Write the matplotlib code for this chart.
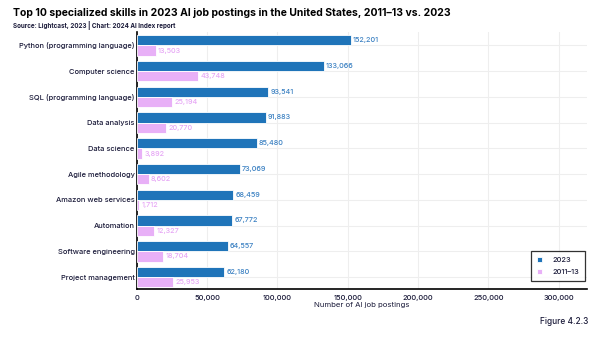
import numpy as np
import matplotlib.pyplot as plt

skills = ["Python (programming language)", "Computer science", "SQL (programming language)",
          "Data analysis", "Data science", "Agile methodology", "Amazon web services",
          "Automation", "Software engineering", "Project management"]
postings_2023 = [152201, 133066, 93541, 91883, 85480, 73069, 68459, 67772, 64557, 62180]
postings_2011 = [13503, 43748, 25194, 20770, 3892, 8602, 1712, 12327, 18704, 25953]

blue = "#1f74b9"
pink = "#e8b0f7"
text_col = "#1b1b3a"

plt.rcParams['font.family'] = ['Inter', 'DejaVu Sans']
plt.rcParams['font.weight'] = 'medium'

fig = plt.figure(figsize=(6, 3.37), dpi=100)
ax = fig.add_axes([0.228, 0.142, 0.75, 0.763])

y = np.arange(len(skills))
h = 0.4
b1 = ax.barh(y - h / 2, postings_2023, height=h, color=blue, edgecolor="white", linewidth=0.6, label="2023", zorder=3)
b2 = ax.barh(y + h / 2, postings_2011, height=h, color=pink, edgecolor="white", linewidth=0.6, label="2011–13", zorder=3)

for bars, vals, c in [(b1, postings_2023, "#3a80c2"), (b2, postings_2011, "#e6a6f5")]:
    for bar, v in zip(bars, vals):
        ax.annotate(f"{v:,}", (v, bar.get_y() + bar.get_height() / 2), xytext=(1.5, 0),
                    textcoords="offset points", va="center", ha="left", fontsize=5.2, color=c)

ax.set_yticks(y)
ax.set_yticklabels(skills, fontsize=5.4, color=text_col)
ax.set_ylim(9.47, -0.52)
ax.set_xlim(0, 320000)
ax.set_xticks(np.arange(0, 300001, 50000))
ax.set_xticklabels([f"{t:,}" for t in range(0, 300001, 50000)], fontsize=5.4, color=text_col)
ax.tick_params(axis="y", length=0, pad=1.5)
ax.tick_params(axis="x", length=0, pad=4)
ax.grid(True, color="#eeeeee", linewidth=0.8, zorder=0)
ax.set_axisbelow(True)
for s in ["top", "right"]:
    ax.spines[s].set_visible(False)
ax.spines["left"].set_linewidth(1.2)
ax.spines["bottom"].set_linewidth(1.2)
ax.set_xlabel("Number of AI job postings", fontsize=5.6, color=text_col, labelpad=1)

leg = ax.legend(loc="lower right", fontsize=5.4, frameon=True, fancybox=False, edgecolor="black",
                handlelength=0.7, handleheight=0.7, borderpad=0.8, labelspacing=0.75, handletextpad=1.4,
                borderaxespad=0.2, bbox_to_anchor=(1.0, 0.025))
leg.get_frame().set_linewidth(0.9)
for t in leg.get_texts():
    t.set_color(text_col)

fig.text(0.022, 0.952, "Top 10 specialized skills in 2023 AI job postings in the United States, 2011–13 vs. 2023",
         fontsize=7.5, fontweight="bold", color="black", va="baseline")
fig.text(0.022, 0.918, "Source: Lightcast, 2023 | Chart: 2024 AI Index report", fontsize=4.5,
         fontweight="bold", color=text_col, va="baseline")
fig.text(0.98, 0.04, "Figure 4.2.3", fontsize=6, color=text_col, ha="right", va="baseline")

fig.savefig("out.png", dpi=100)
